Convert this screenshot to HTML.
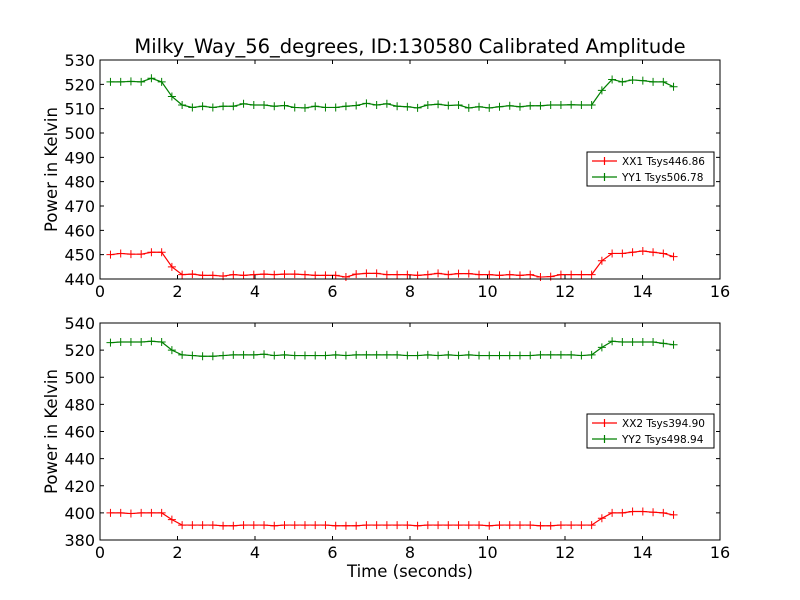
<!DOCTYPE html>
<html><head><meta charset="utf-8">
<style>
html,body{margin:0;padding:0;background:#fff;}
svg{display:block;font-family:"DejaVu Sans","Liberation Sans",sans-serif;}
</style></head>
<body>
<svg id="chart" width="800" height="600" viewBox="0 0 800 600" xmlns="http://www.w3.org/2000/svg">
<rect width="800" height="600" fill="#fff"/>
<text x="410" y="53" font-size="19.5" text-anchor="middle">Milky_Way_56_degrees, ID:130580 Calibrated Amplitude</text>
<g id="plots"></g>
<text x="410" y="577" font-size="16.5" text-anchor="middle">Time (seconds)</text>
</svg>
<script>
const xx1 = [450,450.5,450.2,450.2,451,451,445,441.8,442,441.5,441.5,441.2,441.8,441.5,441.8,442,441.8,442,442,441.8,441.5,441.5,441.5,440.8,442,442.3,442.3,441.8,441.8,441.8,441.5,441.8,442.3,441.8,442.2,442.2,441.8,441.8,441.5,441.8,441.5,441.8,440.8,441,441.8,441.8,441.8,441.8,447.5,450.5,450.5,451,451.5,451,450.5,449.2];
const yy1 = [521,521,521.2,521,522.5,521,515,511.5,510.5,511,510.5,511,511,512,511.5,511.5,511,511.3,510.5,510.3,511,510.5,510.5,511,511.3,512.2,511.5,512,511,510.8,510.3,511.5,511.8,511.3,511.5,510.3,510.8,510.3,510.8,511.2,510.8,511.2,511.2,511.5,511.5,511.6,511.5,511.5,517.5,522,521,521.8,521.5,521,521,519];
const xx2 = [400,400,399.5,400,400,400,395,391,391,391,391,390.5,390.5,391,391,391,390.5,391,391,391,391,391,390.5,390.5,390.5,391,391,391,391,391,390.5,391,391,391,391,391,391,390.5,391,391,391,391,390.5,390.5,391,391,391,391,396,400,400,401,401,400.5,400,398.5];
const yy2 = [525.5,526,526,526,526.5,526,520,516.5,516,515.5,515.5,516,516.5,516.5,516.5,517,516,516.5,516,516,516,516,516.5,516,516.5,516.5,516.5,516.5,516.5,516,516,516.5,516,516.5,516,516.5,516,516,516,516,516,516,516.5,516.5,516.5,516.5,516,516.5,522,526.5,526,526,526,526,525,524];
const t0 = 0.27, dt = 0.2642;
const xTicks = [0,2,4,6,8,10,12,14,16];
const yTicksTop = [440,450,460,470,480,490,500,510,520,530];
const yTicksBot = [380,400,420,440,460,480,500,520,540];

const NS='http://www.w3.org/2000/svg';
const root=document.getElementById('plots');
function mk(tag,attrs,parent){const e=document.createElementNS(NS,tag);for(const k in attrs)e.setAttribute(k,attrs[k]);(parent||root).appendChild(e);return e;}

function panel(name,top,bottom,ymin,ymax,yTicks,series,legY){
  const L=100,R=720;
  const g=mk('g',{});
  
  
  const sx=v=>L+(v-0)/(16-0)*(R-L);
  const sy=v=>bottom-(v-ymin)/(ymax-ymin)*(bottom-top);
  series.forEach(s=>{
    const pts=s.vals.map((v,i)=>[sx(t0+dt*i),sy(v)]);
    const pl=mk('polyline',{points:pts.map(p=>p.join(',')).join(' '),fill:'none',stroke:s.color,'stroke-width':1.2},g);
    
    
    pts.forEach(p=>{
      const m=mk('path',{d:`M${p[0]-4},${p[1]}H${p[0]+4}M${p[0]},${p[1]-4}V${p[1]+4}`,stroke:s.color,'stroke-width':1},g);
      
      
    });
  });
  const fr=mk('rect',{x:L,y:top,width:R-L,height:bottom-top,fill:'none',stroke:'#000','stroke-width':1},g);
  
  
  xTicks.forEach(v=>{
    const x=sx(v);
    mk('path',{d:`M${x},${bottom}v-4M${x},${top}v4`,stroke:'#000'},g);
    const t=mk('text',{x:x,y:bottom+18,'font-size':16,'text-anchor':'middle'},g);
    t.textContent=v;
    
    
  });
  yTicks.forEach(v=>{
    const y=sy(v);
    mk('path',{d:`M${L},${y}h4M${R},${y}h-4`,stroke:'#000'},g);
    const t=mk('text',{x:L-5,y:y+6,'font-size':16,'text-anchor':'end'},g);
    t.textContent=v;
    
    
  });
  const yt=mk('text',{x:0,y:0,'font-size':16.5,'text-anchor':'middle',transform:`translate(57,${(top+bottom)/2}) rotate(-90)`},g);
  yt.textContent='Power in Kelvin';
  
  
  const lg=mk('g',{},g);
  
  
  mk('rect',{x:587,y:legY,width:127,height:34,fill:'#fff',stroke:'#000','stroke-width':1},lg);
  series.forEach((s,i)=>{
    const y=legY+9+i*16;
    mk('path',{d:`M592,${y}H617M604.5,${y-4}V${y+4}`,stroke:s.color,'stroke-width':1.2},lg);
    const t=mk('text',{x:622,y:y+4,'font-size':10.5},lg);
    t.textContent=s.label;
    
    
  });
}
panel('top-panel',60,279,440,530,yTicksTop,[{vals:xx1,color:'#ff0000',label:'XX1 Tsys446.86'},{vals:yy1,color:'#008000',label:'YY1 Tsys506.78'}],152);
panel('bottom-panel',323,540,380,540,yTicksBot,[{vals:xx2,color:'#ff0000',label:'XX2 Tsys394.90'},{vals:yy2,color:'#008000',label:'YY2 Tsys498.94'}],414);
</script>
</body></html>
